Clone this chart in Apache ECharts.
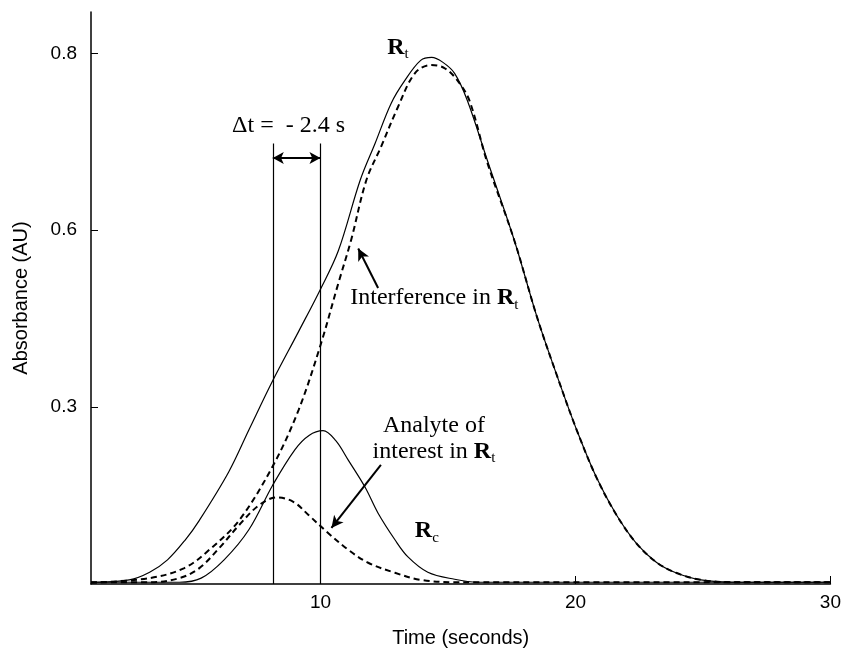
<!DOCTYPE html>
<html>
<head>
<meta charset="utf-8">
<script src="https://cdn.jsdelivr.net/npm/echarts@6/dist/echarts.min.js"></script>
<style>
  html, body { margin: 0; padding: 0; background: #fff; }
  #chart { width: 844px; height: 653px; }
</style>
</head>
<body>
<div id="chart"></div>
<script>
// Total response Rt (solid)
const rtTime = [1.0, 2.5, 3.3, 4.0, 4.7, 5.25, 6.4, 7.2, 8.13, 9.14, 10.0, 10.7, 11.56, 12.14, 12.77, 13.31, 13.93, 14.36, 14.79, 15.26, 15.76, 16.54, 17.6, 18.49, 19.27, 20.05, 20.83, 21.61, 22.39, 23.17, 23.94, 24.92, 26.3, 30.0];
const rtAbs  = [0.003, 0.007, 0.02, 0.041, 0.075, 0.108, 0.19, 0.262, 0.345, 0.428, 0.5, 0.565, 0.685, 0.747, 0.815, 0.854, 0.888, 0.893, 0.885, 0.866, 0.82, 0.719, 0.583, 0.453, 0.354, 0.261, 0.18, 0.117, 0.069, 0.037, 0.019, 0.007, 0.003, 0.003];

// Interference contribution to Rt (dashed)
const intTime = [1.0, 3.3, 4.66, 5.64, 6.81, 8.13, 9.14, 10.0, 10.7, 11.2, 11.8, 12.37, 13.03, 13.7, 14.32, 14.86, 15.37, 15.84, 16.54, 17.6, 18.49, 19.27, 20.05, 20.83, 21.61, 22.39, 23.17, 23.94, 24.92, 26.3, 30.0];
const intAbs  = [0.002, 0.01, 0.027, 0.058, 0.108, 0.2, 0.295, 0.405, 0.51, 0.583, 0.685, 0.741, 0.808, 0.866, 0.88, 0.875, 0.854, 0.82, 0.715, 0.583, 0.453, 0.354, 0.261, 0.18, 0.117, 0.069, 0.037, 0.019, 0.007, 0.003, 0.003];

// Calibration response Rc (solid)
const rcTime = [1.0, 4.47, 5.32, 6.22, 7.19, 8.13, 9.0, 9.55, 10.1, 10.6, 11.09, 11.75, 12.26, 12.92, 13.43, 14.21, 15.26, 16.15, 30.0];
const rcAbs  = [0.003, 0.003, 0.01, 0.041, 0.092, 0.168, 0.228, 0.252, 0.26, 0.243, 0.21, 0.164, 0.12, 0.075, 0.046, 0.02, 0.008, 0.003, 0.003];

// Analyte of interest contribution to Rt (dashed)
const anTime = [1.0, 3.3, 4.47, 5.25, 6.03, 6.81, 7.6, 8.3, 8.95, 9.53, 10.31, 11.09, 11.87, 12.92, 13.93, 15.37, 30.0];
const anAbs  = [0.003, 0.003, 0.01, 0.027, 0.061, 0.1, 0.134, 0.147, 0.139, 0.117, 0.086, 0.058, 0.036, 0.019, 0.007, 0.003, 0.003];

// Axis ticks
const xTickValues = [10, 20, 30];
const yTickValues = [0.3, 0.6, 0.9];
const yTickLabels = ['0.3', '0.6', '0.8'];

// Retention markers and shift
const markerTimes = [8.13, 10.0];
const markerTop = 0.747;
const shiftArrowLevel = 0.7225;

const pairs = (xs, ys) => xs.map((x, i) => [x, ys[i]]);

const chart = echarts.init(document.getElementById('chart'));

const serif = "'Liberation Serif', 'Times New Roman', serif";
const sans = "'Liberation Sans', Arial, sans-serif";

const solid = { color: '#000', width: 1.2, type: 'solid' };
const dashed = { color: '#000', width: 2, type: [6, 4] };

chart.setOption({
  animation: false,
  backgroundColor: '#fff',
  grid: { left: 91, right: 9, top: 12, bottom: 69 },
  xAxis: {
    type: 'value',
    min: 1, max: 30,
    name: 'Time (seconds)',
    nameLocation: 'middle',
    nameGap: 44,
    nameTextStyle: { fontFamily: sans, fontSize: 20, color: '#000' },
    axisLine: { lineStyle: { color: '#000', width: 1.5 } },
    axisTick: { inside: true, length: 8, customValues: xTickValues, lineStyle: { color: '#000' } },
    axisLabel: { customValues: xTickValues, fontFamily: sans, fontSize: 19, color: '#000', margin: 9 },
    splitLine: { show: false }
  },
  yAxis: {
    type: 'value',
    min: 0, max: 0.97,
    name: 'Absorbance (AU)',
    nameLocation: 'middle',
    nameGap: 60,
    nameTextStyle: { fontFamily: sans, fontSize: 20, color: '#000' },
    axisLine: { show: true, lineStyle: { color: '#000', width: 1.5 } },
    axisTick: { show: true, inside: true, length: 7, customValues: yTickValues, lineStyle: { color: '#000' } },
    axisLabel: {
      customValues: yTickValues,
      fontFamily: sans, fontSize: 19, color: '#000', margin: 14,
      formatter: v => {
        const i = yTickValues.findIndex(t => Math.abs(t - v) < 1e-6);
        return i >= 0 ? yTickLabels[i] : '';
      }
    },
    splitLine: { show: false }
  },
  series: [
    {
      name: 'Rt', type: 'line', smooth: 0.35, showSymbol: false,
      data: pairs(rtTime, rtAbs), lineStyle: solid, z: 3,
      markLine: {
        silent: true, symbol: ['none', 'none'],
        lineStyle: { color: '#000', width: 1.2, type: 'solid' },
        label: { show: false },
        data: markerTimes.map(t => [{ coord: [t, 0] }, { coord: [t, markerTop] }])
      }
    },
    {
      name: 'Interference', type: 'line', smooth: 0.35, showSymbol: false,
      data: pairs(intTime, intAbs), lineStyle: dashed, z: 2,
      markLine: {
        silent: true, symbol: ['arrow', 'arrow'], symbolSize: [9, 11],
        lineStyle: { color: '#000', width: 2, type: 'solid' },
        label: { show: false },
        data: [[{ coord: [markerTimes[0], shiftArrowLevel] }, { coord: [markerTimes[1], shiftArrowLevel] }]]
      }
    },
    {
      name: 'Rc', type: 'line', smooth: 0.35, showSymbol: false,
      data: pairs(rcTime, rcAbs), lineStyle: solid, z: 3,
      markLine: {
        silent: true, symbol: ['none', 'arrow'], symbolSize: [9, 12],
        lineStyle: { color: '#000', width: 2, type: 'solid' },
        label: { show: false },
        data: [
          [{ coord: [12.26, 0.502] }, { coord: [11.48, 0.569] }],
          [{ coord: [12.37, 0.202] }, { coord: [10.43, 0.095] }]
        ]
      }
    },
    {
      name: 'Analyte', type: 'line', smooth: 0.35, showSymbol: false,
      data: pairs(anTime, anAbs), lineStyle: dashed, z: 2
    }
  ]
});

// Annotations anchored in data coordinates
const rich = {
  b: { fontFamily: serif, fontWeight: 'bold', fontSize: 24, color: '#000' },
  s: { fontFamily: serif, fontSize: 15, color: '#000', padding: [14, 0, 0, 0] },
  n: { fontFamily: serif, fontSize: 24, color: '#000' }
};
const notes = [
  { at: [12.62, 0.91], text: '{b|R}{s|t}', align: 'left' },
  { at: [8.75, 0.778], text: '{n|\u0394t =  - 2.4 s}', align: 'center' },
  { at: [11.17, 0.485], text: '{n|Interference in }{b|R}{s|t}', align: 'left' },
  { at: [14.45, 0.247], text: '{n|Analyte of}\n{n|interest in }{b|R}{s|t}', align: 'center' },
  { at: [13.7, 0.09], text: '{b|R}{s|c}', align: 'left' }
];
chart.setOption({
  graphic: notes.map(n => {
    const p = chart.convertToPixel({ gridIndex: 0 }, n.at);
    return {
      type: 'text', x: p[0], y: p[1], z: 10,
      style: { text: n.text, rich, align: n.align, verticalAlign: 'middle', lineHeight: 26, fill: '#000' }
    };
  })
});
</script>
</body>
</html>
